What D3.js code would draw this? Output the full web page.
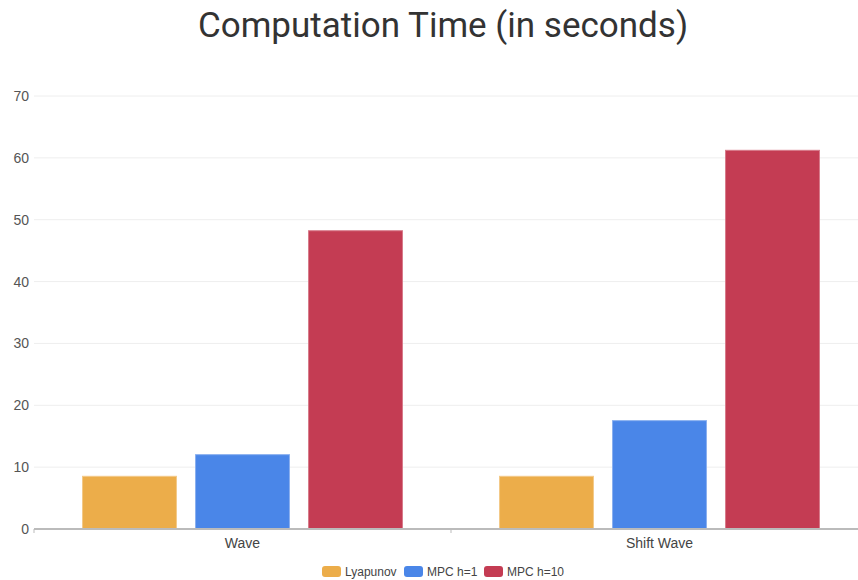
<!DOCTYPE html>
<html>
<head>
<meta charset="utf-8">
<script src="https://cdn.jsdelivr.net/npm/d3@7/dist/d3.min.js"></script>
<style>
  html, body { margin: 0; padding: 0; background: #fff; }
  svg { display: block; font-family: Roboto, "Open Sans", sans-serif; }
</style>
</head>
<body>
<svg id="chart" width="858" height="580"></svg>
<script>
// Chart data
const categories = ["Wave", "Shift Wave"];
const seriesNames = ["Lyapunov", "MPC h=1", "MPC h=10"];
const lyapunov = [8.6, 8.6];
const mpcH1 = [12.1, 17.6];
const mpcH10 = [48.3, 61.3];
const yTicks = [0, 10, 20, 30, 40, 50, 60, 70];
const colors = ["#ECAD4A", "#4A86E8", "#C43C53"];
const borderColors = ["#F3C988", "#8AB0EF", "#D77A8A"];

const seriesValues = [lyapunov, mpcH1, mpcH10];
const labelFont = "Arial, 'Liberation Sans', sans-serif";

const svg = d3.select("#chart");
const plotLeft = 34, plotRight = 868, plotTop = 96, plotBottom = 529;

const x0 = d3.scaleBand().domain(categories).range([plotLeft, plotRight]).padding(0);
const x1 = d3.scaleBand().domain(seriesNames).range([0, x0.bandwidth()])
  .paddingInner(0.16).paddingOuter(0.425);
const y = d3.scaleLinear().domain([0, 70]).range([plotBottom, plotTop]);

// Title
svg.append("text")
  .attr("x", 443).attr("y", 37)
  .attr("text-anchor", "middle")
  .attr("font-size", 35)
  .attr("fill", "#333")
  .text("Computation Time (in seconds)");

// Gridlines
svg.append("g")
  .selectAll("line")
  .data(yTicks.filter(d => d !== 0))
  .join("line")
  .attr("x1", plotLeft).attr("x2", plotRight)
  .attr("y1", d => y(d)).attr("y2", d => y(d))
  .attr("stroke", "#eeeeee").attr("stroke-width", 1);

// Y axis labels
const yAxis = d3.axisLeft(y).tickValues(yTicks).tickSize(0).tickPadding(5);
const yg = svg.append("g").attr("transform", `translate(${plotLeft},0)`).call(yAxis);
yg.select(".domain").remove();
yg.selectAll("text").attr("font-size", 14).attr("fill", "#555")
  .attr("font-family", labelFont);

// Bars
const groups = svg.append("g").selectAll("g")
  .data(categories)
  .join("g")
  .attr("transform", d => `translate(${x0(d)},0)`);

groups.selectAll("rect")
  .data((c, ci) => seriesNames.map((s, si) => ({ s, si, v: seriesValues[si][ci] })))
  .join("rect")
  .attr("x", d => x1(d.s) + 0.5)
  .attr("y", d => y(d.v) + 0.5)
  .attr("width", x1.bandwidth() - 1)
  .attr("height", d => y(0) - y(d.v) - 0.5)
  .attr("fill", d => colors[d.si])
  .attr("stroke", d => borderColors[d.si])
  .attr("stroke-width", 1);

// X axis baseline and labels
const xAxis = d3.axisBottom(x0).tickSize(0).tickPadding(9);
const xg = svg.append("g").attr("transform", `translate(0,${plotBottom})`).call(xAxis);
xg.select(".domain").attr("stroke", "#bbb").attr("stroke-width", 2)
  .attr("d", `M${plotLeft},0H${plotRight}`);
xg.selectAll("text").attr("font-size", 14).attr("fill", "#444")
  .attr("font-family", labelFont);

// Category separator ticks
svg.append("g")
  .selectAll("line")
  .data([plotLeft, x0(categories[1])])
  .join("line")
  .attr("x1", d => d).attr("x2", d => d)
  .attr("y1", plotBottom).attr("y2", plotBottom + 4)
  .attr("stroke", "#bbb").attr("stroke-width", 1);

// Legend
const legendX = [322, 404, 484];
const legend = svg.append("g").selectAll("g")
  .data(seriesNames)
  .join("g")
  .attr("transform", (d, i) => `translate(${legendX[i]},566)`);
legend.append("rect")
  .attr("width", 19).attr("height", 11).attr("rx", 3)
  .attr("fill", (d, i) => colors[i]);
legend.append("text")
  .attr("x", 23).attr("y", 9.5)
  .attr("font-size", 12)
  .attr("fill", "#444")
  .attr("font-family", labelFont)
  .text(d => d);
</script>
</body>
</html>
